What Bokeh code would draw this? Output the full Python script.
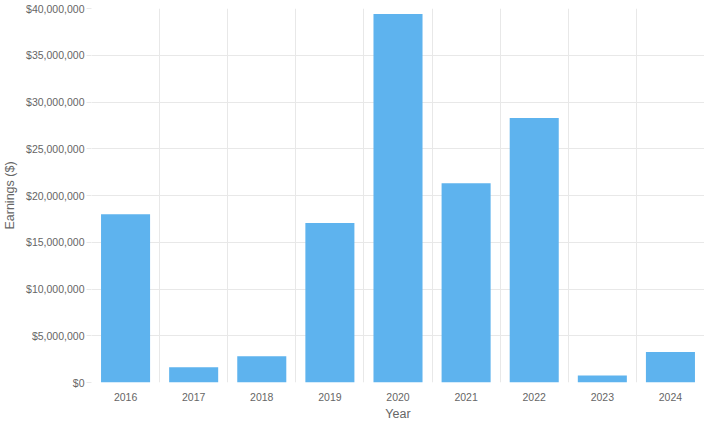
import numpy as np
from bokeh.plotting import figure
from bokeh.models import Range1d, FixedTicker, NumeralTickFormatter, ColumnDataSource
from bokeh.embed import file_html
from bokeh.resources import INLINE

# Data
years = ["2016", "2017", "2018", "2019", "2020", "2021", "2022", "2023", "2024"]
earnings = [18.0e6, 1.62e6, 2.82e6, 17.05e6, 39.4e6, 21.3e6, 28.3e6, 0.74e6, 3.27e6]
y_ticks = [0, 5e6, 10e6, 15e6, 20e6, 25e6, 30e6, 35e6, 40e6]
x_title = "Year"
y_title = "Earnings ($)"

centers = [i + 0.5 for i in range(len(years))]
boundaries = list(range(len(years) + 1))

src = ColumnDataSource(dict(x=centers, top=earnings, year=years))

p = figure(width=704, height=423, output_backend="svg", toolbar_location=None,
           x_range=Range1d(0, len(years)), y_range=Range1d(0, 40e6),
           min_border_left=79, min_border_right=0, min_border_top=8, min_border_bottom=0)

p.vbar(x="x", top="top", width=0.72, source=src, fill_color="#5EB3EE", line_color=None)

grid_c = "#e8e8e8"
text_c = "#666666"
p.outline_line_color = None
p.background_fill_color = "white"

# Y axis
p.yaxis.ticker = FixedTicker(ticks=y_ticks)
p.yaxis.formatter = NumeralTickFormatter(format="$0,0")
p.yaxis.axis_label = y_title
p.yaxis.axis_line_color = None
p.yaxis.major_tick_line_color = grid_c
p.yaxis.major_tick_out = 5
p.yaxis.major_tick_in = 0
p.yaxis.minor_tick_line_color = None
p.yaxis.major_label_standoff = 2
p.yaxis.axis_label_standoff = 6
p.ygrid.grid_line_color = grid_c
p.ygrid.ticker = FixedTicker(ticks=y_ticks)

# X axis
p.xaxis.ticker = FixedTicker(ticks=centers)
p.xaxis.major_label_overrides = {c: y for c, y in zip(centers, years)}
p.xaxis.axis_label = x_title
p.xaxis.axis_line_color = None
p.xaxis.major_tick_line_color = None
p.xaxis.major_tick_out = 0
p.xaxis.minor_tick_line_color = None
p.xaxis.major_label_standoff = 10
p.xaxis.axis_label_standoff = 3
p.xgrid.ticker = FixedTicker(ticks=boundaries)
p.xgrid.grid_line_color = grid_c

for ax in (p.xaxis[0], p.yaxis[0]):
    ax.major_label_text_font = "Liberation Sans"
    ax.major_label_text_font_size = "10.5px"
    ax.major_label_text_color = text_c
    ax.axis_label_text_font = "Liberation Sans"
    ax.axis_label_text_font_size = "12.5px"
    ax.axis_label_text_font_style = "normal"
    ax.axis_label_text_color = text_c

open("out.html", "w").write(file_html(p, INLINE))
